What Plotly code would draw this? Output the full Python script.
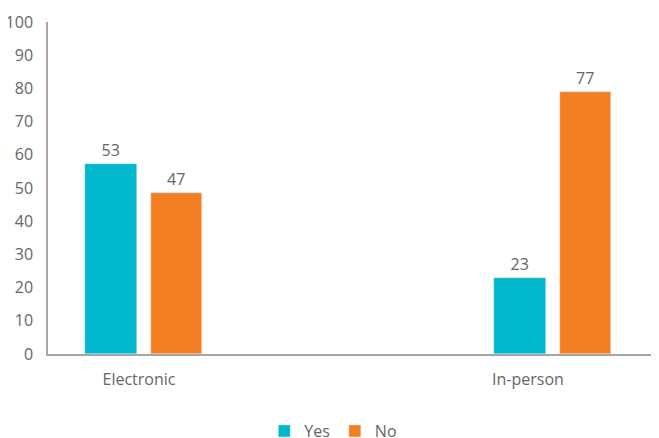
import plotly.graph_objects as go

categories = ["Electronic", "In-person"]
yes_values = [57.2, 23.0]
no_values = [48.6, 78.9]
yes_labels = ["53", "23"]
no_labels = ["47", "77"]
y_ticks = list(range(0, 101, 10))

TEAL = "#00B7CD"
ORANGE = "#F47E22"
GRAY = "#666666"
FONT = "Open Sans, Noto Sans, sans-serif"

positions = list(range(len(categories)))
label_shift = [-0.011, -0.06]

fig = go.Figure()
fig.add_trace(go.Bar(
    name="Yes", x=positions, y=yes_values, text=yes_labels,
    textposition="outside", marker_color=TEAL, width=0.125, offset=-0.142,
    textfont=dict(color=GRAY, size=16, family=FONT), cliponaxis=False,
))
fig.add_trace(go.Bar(
    name="No", x=positions, y=no_values, text=no_labels,
    textposition="outside", marker_color=ORANGE, width=0.125, offset=0.018,
    textfont=dict(color=GRAY, size=16, family=FONT), cliponaxis=False,
))

fig.update_layout(
    width=651, height=430,
    margin=dict(l=40, r=4, t=14, b=84, autoexpand=False),
    plot_bgcolor="white", paper_bgcolor="white",
    font=dict(family=FONT, size=16, color=GRAY),
    showlegend=True,
    legend=dict(orientation="h", x=0.47, xanchor="center", y=-0.232, yanchor="middle",
                font=dict(size=16, color=GRAY), itemwidth=30),
    bargap=0, bargroupgap=0,
    xaxis=dict(
        type="linear", range=[-0.2335, 1.2506], automargin=False,
        tickvals=[p + s for p, s in zip(positions, label_shift)], ticktext=categories,
        showline=True, linecolor="#A6A6A6", linewidth=1.5,
        ticks="", showgrid=False, zeroline=False, ticklabelstandoff=10,
        tickfont=dict(size=16, color=GRAY),
    ),
    yaxis=dict(
        range=[0, 100], tickvals=y_ticks, showline=True, linecolor="#A6A6A6",
        linewidth=1.5, showgrid=False, zeroline=False, ticks="", automargin=False,
        tickfont=dict(size=16, color=GRAY), ticklabelstandoff=10,
    ),
)

fig.write_html("out.html")
